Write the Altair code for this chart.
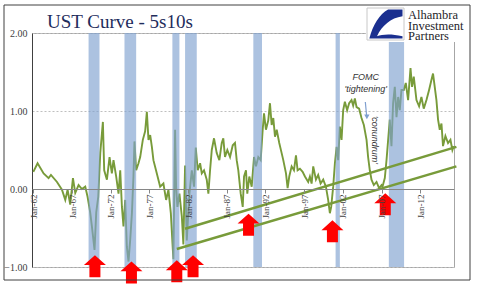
import altair as alt
import pandas as pd

# ---------------- data ----------------
dates = [
    1962.00, 1962.55, 1963.33, 1963.97, 1964.28, 1965.06, 1965.70, 1966.13, 1966.43, 1966.77,
    1967.12, 1967.42, 1967.85, 1968.28, 1968.71, 1969.01, 1969.35, 1969.57, 1969.91, 1970.13,
    1970.39, 1970.65, 1970.99, 1971.16, 1971.51, 1971.85, 1972.15, 1972.36, 1972.71, 1973.01,
    1973.23, 1973.45, 1973.65, 1973.87, 1974.09, 1974.30, 1974.52, 1974.74, 1974.94, 1975.07,
    1975.29, 1975.59, 1975.81, 1976.15, 1976.45, 1976.67, 1976.88, 1977.10, 1977.32, 1977.52,
    1977.96, 1978.39, 1978.81, 1979.16, 1979.46, 1979.77, 1980.03, 1980.10, 1980.32, 1980.45,
    1980.62, 1980.88, 1981.19, 1981.39, 1981.61, 1981.83, 1982.17, 1982.48, 1982.77, 1982.99,
    1983.25, 1983.55, 1983.77, 1984.06, 1984.41, 1984.62, 1984.84, 1985.06, 1985.35, 1985.70,
    1986.04, 1986.35, 1986.55, 1986.77, 1987.07, 1987.42, 1987.77, 1988.06, 1988.28, 1988.49,
    1988.80, 1989.06, 1989.23, 1989.48, 1989.65, 1989.91, 1990.22, 1990.52, 1990.77, 1991.07,
    1991.38, 1991.64, 1991.81, 1992.06, 1992.36, 1992.58, 1992.80, 1993.01, 1993.23, 1993.45,
    1993.78, 1994.09, 1994.30, 1994.65, 1994.86, 1995.07, 1995.38, 1995.68, 1995.94, 1996.15,
    1996.45, 1996.80, 1997.10, 1997.52, 1997.74, 1997.96, 1998.17, 1998.52, 1998.81, 1999.12,
    1999.46, 1999.81, 2000.10, 2000.32, 2000.49, 2000.75, 2000.97, 2001.19, 2001.39, 2001.61,
    2001.83, 2002.04, 2002.26, 2002.55, 2002.81, 2003.12, 2003.33, 2003.55, 2003.77, 2004.10,
    2004.41, 2004.71, 2005.06, 2005.26, 2005.48, 2005.70, 2006.00, 2006.35, 2006.68, 2006.99,
    2007.12, 2007.42, 2007.64, 2007.85, 2008.06, 2008.28, 2008.49, 2008.71, 2008.93, 2009.14,
    2009.35, 2009.57, 2009.87, 2010.13, 2010.43, 2010.74, 2010.94, 2011.16, 2011.51, 2011.85,
    2012.15, 2012.45, 2012.80, 2013.14, 2013.45, 2013.65, 2013.87, 2014.09, 2014.30, 2014.52,
    2014.74, 2014.94, 2015.25, 2015.59, 2015.90, 2016.15, 2016.32,
]
spread = [
    0.22, 0.33, 0.20, 0.14, 0.18, 0.09, -0.01, -0.14, -0.01, -0.20,
    0.14, -0.05, 0.05, 0.00, 0.03, -0.10, -0.30, -0.48, -0.78, -0.30,
    -0.10, 0.46, 0.86, 0.24, 0.12, 0.41, 0.20, 0.37, 0.16, -0.06,
    0.24, -0.23, -0.48, -0.14, -0.74, -0.93, -0.65, -0.31, 0.16, 0.61,
    0.24, 0.33, 0.41, 0.63, 0.74, 0.99, 0.63, 0.69, 0.54, 0.37,
    0.20, 0.03, 0.07, -0.14, -0.01, -0.31, -0.78, -0.90, 0.76, 0.03,
    -0.23, -0.06, -0.35, -0.71, 0.30, -0.66, -0.06, 0.24, 0.03, 0.53,
    0.24, 0.33, 0.20, 0.24, 0.12, -0.06, 0.24, 0.50, 0.65, 0.46,
    0.37, 0.59, 0.65, 0.41, 0.50, 0.41, 0.56, 0.59, 0.37, 0.24,
    -0.06, -0.23, 0.16, 0.24, -0.06, 0.16, 0.03, 0.41, 0.29, 0.41,
    0.37, 0.76, 0.97, 0.76, 0.88, 1.10, 0.82, 0.91, 0.67, 0.76,
    0.59, 0.46, 0.37, 0.20, 0.01, 0.16, 0.29, 0.24, 0.43, 0.24,
    0.26, 0.22, 0.16, 0.09, 0.16, 0.07, 0.29, 0.12, 0.18, 0.07,
    0.12, 0.03, -0.14, -0.31, -0.23, 0.03, 0.33, 0.54, 0.37, 0.80,
    0.63, 1.01, 1.12, 1.01, 1.10, 1.14, 1.07, 1.16, 1.05, 1.03,
    0.91, 0.82, 0.63, 0.41, 0.24, 0.12, 0.05, 0.09, 0.01, 0.05,
    0.03, 0.14, 0.37, 0.63, 0.89, 0.55, 1.10, 1.31, 0.92, 1.18,
    1.01, 1.27, 1.27, 1.36, 1.14, 1.55, 1.31, 1.44, 1.14, 1.06,
    1.18, 1.03, 1.14, 1.27, 1.40, 1.48, 1.31, 1.14, 0.89, 0.76,
    0.84, 0.55, 0.68, 0.59, 0.63, 0.50, 0.55,
]

rec_start = [1969.14, 1973.78, 1979.97, 1981.61, 1990.43, 2001.06, 2007.94]
rec_end = [1970.55, 1975.29, 1980.88, 1983.12, 1991.55, 2001.61, 2009.91]

trend_name = ["upper", "upper", "lower", "lower"]
trend_x = [1981.61, 2016.67, 1980.54, 2016.67]
trend_y = [-0.51, 0.54, -0.77, 0.29]

arrow_x = [1969.96, 1974.68, 1980.54, 1982.64, 1989.81, 2000.65, 2007.48]
arrow_y = [-0.99, -1.07, -1.055, -0.99, -0.458, -0.542, -0.196]

tick_years = [1962, 1967, 1972, 1977, 1982, 1987, 1992, 1997, 2002, 2007, 2012]
tick_labels = ["Jan-62", "Jan-67", "Jan-72", "Jan-77", "Jan-82", "Jan-87",
               "Jan-92", "Jan-97", "Jan-02", "Jan-07", "Jan-12"]
y_ticks = [-1.0, -0.5, 0.0, 0.5, 1.0, 1.5, 2.0]

title_text = "UST Curve - 5s10s"
logo_lines = ["Alhambra", "Investment", "Partners"]
fomc_lines = ["FOMC", "'tightening'"]
conundrum_text = "'conundrum'"

# ---------------- layout ----------------
W, H = 422, 234
GREEN = "#789B3A"
SERIF = "Liberation Serif"

xs = alt.Scale(domain=[1961.83, 2016.36], nice=False, zero=False)
ys = alt.Scale(domain=[-1, 2], nice=False, zero=False)

label_expr = " : ".join(f"datum.value == {y} ? '{l}'" for y, l in zip(tick_years, tick_labels)) + " : ''"

series = pd.DataFrame({"date": dates, "spread": spread})
rec = pd.DataFrame({"start": rec_start, "end": rec_end})
trend = pd.DataFrame({"name": trend_name, "date": trend_x, "v": trend_y})
arrows = pd.DataFrame({"date": arrow_x, "v": arrow_y})


def X(field):
    return alt.X(field, scale=xs, title=None)


def Y(field):
    return alt.Y(field, scale=ys, title=None)


line = alt.Chart(series).mark_line(color=GREEN, strokeWidth=1.9).encode(
    x=alt.X("date:Q", scale=xs, title=None, axis=alt.Axis(
        values=tick_years, labelExpr=label_expr, labelAngle=270, offset=-(H / 3),
        grid=False, domainColor="#868686", tickColor="#868686", tickSize=4,
        labelPadding=1, labelFont=SERIF, labelFontSize=9, labelColor="#404040",
        labelFlush=False, labelOverlap=False, zindex=1)),
    y=alt.Y("spread:Q", scale=ys, title=None, axis=alt.Axis(
        values=y_ticks, format=".2f", grid=True, gridDash=[2, 2], gridColor="#BFBFBF",
        domainColor="#404040", ticks=False, labelPadding=5, labelFont=SERIF,
        labelFontSize=10, labelColor="#404040")),
)

bands = alt.Chart(rec).mark_rect(color="#7FA2D0", opacity=0.65).encode(
    x=X("start:Q"), x2="end:Q", y=alt.value(0), y2=alt.value(H),
)

trends = alt.Chart(trend).mark_line(color=GREEN, strokeWidth=2.5).encode(
    x=X("date:Q"), y=Y("v:Q"), detail="name:N",
)

ARROW = "M0,-1 L1,-0.1 L0.5,-0.1 L0.5,1 L-0.5,1 L-0.5,-0.1 L-1,-0.1 Z"
red_arrows = alt.Chart(arrows).mark_point(
    shape=ARROW, filled=True, color="#FF0000", size=484, opacity=1
).encode(x=X("date:Q"), y=Y("v:Q"))

ann = pd.DataFrame({"date": [2004.95, 2004.95], "v": [1.40, 1.245], "t": fomc_lines})
ann_text = alt.Chart(ann).mark_text(
    font="Liberation Sans", fontStyle="italic", fontSize=9, color="#333333", baseline="alphabetic"
).encode(x=X("date:Q"), y=Y("v:Q"), text="t:N")

conundrum = alt.Chart(pd.DataFrame({"date": [2006.1], "v": [0.63], "t": [conundrum_text]})).mark_text(
    font="Liberation Sans", fontStyle="italic", fontSize=9, color="#333333", angle=90
).encode(x=X("date:Q"), y=Y("v:Q"), text="t:N")

blue_rule = alt.Chart(pd.DataFrame({"x1": [2004.9], "x2": [2005.08], "y1": [1.115], "y2": [0.93]})).mark_rule(
    color="#7F9FCF", strokeWidth=1.2
).encode(x=X("x1:Q"), x2="x2:Q", y=Y("y1:Q"), y2="y2:Q")

blue_head = alt.Chart(pd.DataFrame({"x": [2005.1], "y": [0.925]})).mark_point(
    shape="triangle-down", filled=True, color="#7F9FCF", size=28, opacity=1
).encode(x=X("x:Q"), y=Y("y:Q"))

# decorations positioned in pixels relative to the plot origin
anchor = pd.DataFrame({"a": [0]})
title_mark = alt.Chart(anchor).mark_text(
    text=title_text, font=SERIF, fontSize=19, color="#1F2D5C", align="left", baseline="alphabetic"
).encode(x=alt.value(15), y=alt.value(-5))
logo_bg = alt.Chart(anchor).mark_rect(color="white").encode(
    x=alt.value(334), x2=alt.value(436), y=alt.value(-27), y2=alt.value(9))
logo_box = alt.Chart(anchor).mark_rect(fill="white", stroke="#C8C8C8", strokeWidth=1).encode(
    x=alt.value(335), x2=alt.value(372), y=alt.value(-25), y2=alt.value(7))
SWOOSH = ("M 1 -0.85 L 0.15 -0.85 C -0.35 -0.6 -0.75 0.1 -0.95 0.85 L 1 0.85 L 1 0.72 "
          "C 0.3 0.55 -0.2 0.6 -0.5 0.72 C -0.2 0.1 0.3 -0.35 1 -0.45 Z")
logo_mark = alt.Chart(anchor).mark_point(
    shape=SWOOSH, filled=True, color="#1A2F8F", size=1156, opacity=1
).encode(x=alt.value(353.5), y=alt.value(-9))
logo_texts = [
    alt.Chart(anchor).mark_text(
        text=t, font=SERIF, fontSize=12.5, color="#1E1E2A", align="left", baseline="alphabetic"
    ).encode(x=alt.value(376), y=alt.value(yy))
    for t, yy in zip(logo_lines, [-14, -3.5, 7])
]
frame = alt.Chart(anchor).mark_rect(fillOpacity=0, stroke="#404040", strokeWidth=1).encode(
    x=alt.value(-28), x2=alt.value(438), y=alt.value(-28), y2=alt.value(247))

chart = alt.layer(
    line, bands, trends, red_arrows, ann_text, conundrum, blue_rule, blue_head,
    title_mark, logo_bg, logo_box, logo_mark, *logo_texts, frame
).properties(
    width=W, height=H,
    autosize=alt.AutoSizeParams(type="none"),
    padding={"left": 32, "top": 33, "right": 26, "bottom": 28},
    background="white",
).configure_view(stroke="#A6A6A6", strokeWidth=1)

chart.save("out.html", embed_options={"renderer": "svg", "actions": False})
